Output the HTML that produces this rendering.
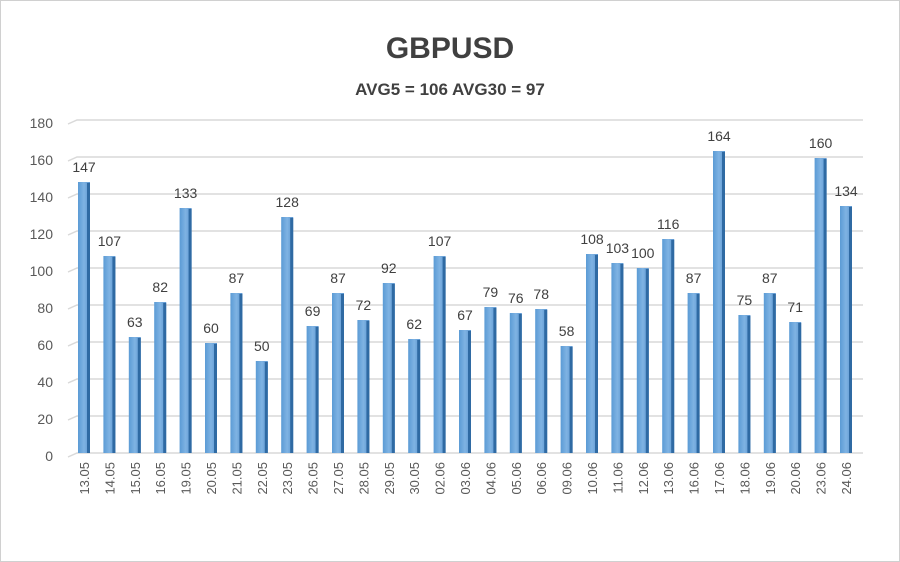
<!DOCTYPE html>
<html><head><meta charset="utf-8"><style>
html,body{margin:0;padding:0;background:#fff}
svg{display:block}
text{font-family:"Liberation Sans",sans-serif}
</style></head><body>
<svg width="900" height="562" viewBox="0 0 900 562" xmlns="http://www.w3.org/2000/svg">
<defs>
<linearGradient id="g" x1="0" x2="1" y1="0" y2="0">
<stop offset="0" stop-color="#5b9bd5"/><stop offset="0.5" stop-color="#7fb3e3"/><stop offset="1" stop-color="#5b95cf"/>
</linearGradient>
</defs>
<rect x="0.5" y="0.5" width="899" height="561" fill="#fff" stroke="#d0d0d0"/>
<text x="450" y="58" text-anchor="middle" font-size="30" font-weight="bold" fill="#404040">GBPUSD</text>
<text x="450" y="95" text-anchor="middle" font-size="17" font-weight="bold" fill="#404040">AVG5 = 106 AVG30 = 97</text>
<g stroke="#d9d9d9" stroke-width="1.5" fill="none">
<path d="M68 457 L77 453 L863 453"/>
<path d="M68 420 L77 416 L863 416"/>
<path d="M68 383 L77 379 L863 379"/>
<path d="M68 346 L77 342 L863 342"/>
<path d="M68 309 L77 305 L863 305"/>
<path d="M68 272 L77 268 L863 268"/>
<path d="M68 235 L77 231 L863 231"/>
<path d="M68 198 L77 194 L863 194"/>
<path d="M68 161 L77 157 L863 157"/>
<path d="M68 124 L77 120 L863 120"/>
</g>
<g font-size="14" fill="#595959" text-anchor="end">
<text x="53" y="461">0</text><text x="53" y="424">20</text><text x="53" y="387">40</text><text x="53" y="350">60</text><text x="53" y="313">80</text><text x="53" y="276">100</text><text x="53" y="239">120</text><text x="53" y="202">140</text><text x="53" y="165">160</text><text x="53" y="128">180</text>
</g>
<g id="bars">
<rect x="78" y="182" width="12" height="271" fill="url(#g)"/>
<rect x="103.4" y="256" width="12" height="197" fill="url(#g)"/>
<rect x="128.8" y="337" width="12" height="116" fill="url(#g)"/>
<rect x="154.2" y="302" width="12" height="151" fill="url(#g)"/>
<rect x="179.6" y="208" width="12" height="245" fill="url(#g)"/>
<rect x="205" y="343" width="12" height="110" fill="url(#g)"/>
<rect x="230.4" y="293" width="12" height="160" fill="url(#g)"/>
<rect x="255.8" y="361" width="12" height="92" fill="url(#g)"/>
<rect x="281.2" y="217" width="12" height="236" fill="url(#g)"/>
<rect x="306.6" y="326" width="12" height="127" fill="url(#g)"/>
<rect x="332" y="293" width="12" height="160" fill="url(#g)"/>
<rect x="357.4" y="320" width="12" height="133" fill="url(#g)"/>
<rect x="382.8" y="283" width="12" height="170" fill="url(#g)"/>
<rect x="408.2" y="339" width="12" height="114" fill="url(#g)"/>
<rect x="433.6" y="256" width="12" height="197" fill="url(#g)"/>
<rect x="459" y="330" width="12" height="123" fill="url(#g)"/>
<rect x="484.4" y="307" width="12" height="146" fill="url(#g)"/>
<rect x="509.8" y="313" width="12" height="140" fill="url(#g)"/>
<rect x="535.2" y="309" width="12" height="144" fill="url(#g)"/>
<rect x="560.6" y="346" width="12" height="107" fill="url(#g)"/>
<rect x="586" y="254" width="12" height="199" fill="url(#g)"/>
<rect x="611.4" y="263" width="12" height="190" fill="url(#g)"/>
<rect x="636.8" y="268" width="12" height="185" fill="url(#g)"/>
<rect x="662.2" y="239" width="12" height="214" fill="url(#g)"/>
<rect x="687.6" y="293" width="12" height="160" fill="url(#g)"/>
<rect x="713" y="151" width="12" height="302" fill="url(#g)"/>
<rect x="738.4" y="315" width="12" height="138" fill="url(#g)"/>
<rect x="763.8" y="293" width="12" height="160" fill="url(#g)"/>
<rect x="789.2" y="322" width="12" height="131" fill="url(#g)"/>
<rect x="814.6" y="158" width="12" height="295" fill="url(#g)"/>
<rect x="840" y="206" width="12" height="247" fill="url(#g)"/>
</g>
<g fill="#2f6aa3">
<rect x="87" y="183" width="3" height="270"/><rect x="112.4" y="257" width="3" height="196"/><rect x="137.8" y="338" width="3" height="115"/><rect x="163.2" y="303" width="3" height="150"/><rect x="188.6" y="209" width="3" height="244"/><rect x="214" y="344" width="3" height="109"/><rect x="239.4" y="294" width="3" height="159"/><rect x="264.8" y="362" width="3" height="91"/><rect x="290.2" y="218" width="3" height="235"/><rect x="315.6" y="327" width="3" height="126"/><rect x="341" y="294" width="3" height="159"/><rect x="366.4" y="321" width="3" height="132"/><rect x="391.8" y="284" width="3" height="169"/><rect x="417.2" y="340" width="3" height="113"/><rect x="442.6" y="257" width="3" height="196"/><rect x="468" y="331" width="3" height="122"/><rect x="493.4" y="308" width="3" height="145"/><rect x="518.8" y="314" width="3" height="139"/><rect x="544.2" y="310" width="3" height="143"/><rect x="569.6" y="347" width="3" height="106"/><rect x="595" y="255" width="3" height="198"/><rect x="620.4" y="264" width="3" height="189"/><rect x="645.8" y="269" width="3" height="184"/><rect x="671.2" y="240" width="3" height="213"/><rect x="696.6" y="294" width="3" height="159"/><rect x="722" y="152" width="3" height="301"/><rect x="747.4" y="316" width="3" height="137"/><rect x="772.8" y="294" width="3" height="159"/><rect x="798.2" y="323" width="3" height="130"/><rect x="823.6" y="159" width="3" height="294"/><rect x="849" y="207" width="3" height="246"/>
</g>
<g font-size="14" fill="#404040" text-anchor="middle">
<text x="84" y="172">147</text><text x="109.4" y="246">107</text><text x="134.8" y="327">63</text><text x="160.2" y="292">82</text><text x="185.6" y="198">133</text><text x="211" y="333">60</text><text x="236.4" y="283">87</text><text x="261.8" y="351">50</text><text x="287.2" y="207">128</text><text x="312.6" y="316">69</text><text x="338" y="283">87</text><text x="363.4" y="310">72</text><text x="388.8" y="273">92</text><text x="414.2" y="329">62</text><text x="439.6" y="246">107</text><text x="465" y="320">67</text><text x="490.4" y="297">79</text><text x="515.8" y="303">76</text><text x="541.2" y="299">78</text><text x="566.6" y="336">58</text><text x="592" y="244">108</text><text x="617.4" y="253">103</text><text x="642.8" y="258">100</text><text x="668.2" y="229">116</text><text x="693.6" y="283">87</text><text x="719" y="141">164</text><text x="744.4" y="305">75</text><text x="769.8" y="283">87</text><text x="795.2" y="312">71</text><text x="820.6" y="148">160</text><text x="846" y="196">134</text>
</g>
<g font-size="13" fill="#595959" text-anchor="end">
<text transform="translate(89,462) rotate(-90)">13.05</text><text transform="translate(114.4,462) rotate(-90)">14.05</text><text transform="translate(139.8,462) rotate(-90)">15.05</text><text transform="translate(165.2,462) rotate(-90)">16.05</text><text transform="translate(190.6,462) rotate(-90)">19.05</text><text transform="translate(216,462) rotate(-90)">20.05</text><text transform="translate(241.4,462) rotate(-90)">21.05</text><text transform="translate(266.8,462) rotate(-90)">22.05</text><text transform="translate(292.2,462) rotate(-90)">23.05</text><text transform="translate(317.6,462) rotate(-90)">26.05</text><text transform="translate(343,462) rotate(-90)">27.05</text><text transform="translate(368.4,462) rotate(-90)">28.05</text><text transform="translate(393.8,462) rotate(-90)">29.05</text><text transform="translate(419.2,462) rotate(-90)">30.05</text><text transform="translate(444.6,462) rotate(-90)">02.06</text><text transform="translate(470,462) rotate(-90)">03.06</text><text transform="translate(495.4,462) rotate(-90)">04.06</text><text transform="translate(520.8,462) rotate(-90)">05.06</text><text transform="translate(546.2,462) rotate(-90)">06.06</text><text transform="translate(571.6,462) rotate(-90)">09.06</text><text transform="translate(597,462) rotate(-90)">10.06</text><text transform="translate(622.4,462) rotate(-90)">11.06</text><text transform="translate(647.8,462) rotate(-90)">12.06</text><text transform="translate(673.2,462) rotate(-90)">13.06</text><text transform="translate(698.6,462) rotate(-90)">16.06</text><text transform="translate(724,462) rotate(-90)">17.06</text><text transform="translate(749.4,462) rotate(-90)">18.06</text><text transform="translate(774.8,462) rotate(-90)">19.06</text><text transform="translate(800.2,462) rotate(-90)">20.06</text><text transform="translate(825.6,462) rotate(-90)">23.06</text><text transform="translate(851,462) rotate(-90)">24.06</text>
</g>
</svg>
</body></html>
